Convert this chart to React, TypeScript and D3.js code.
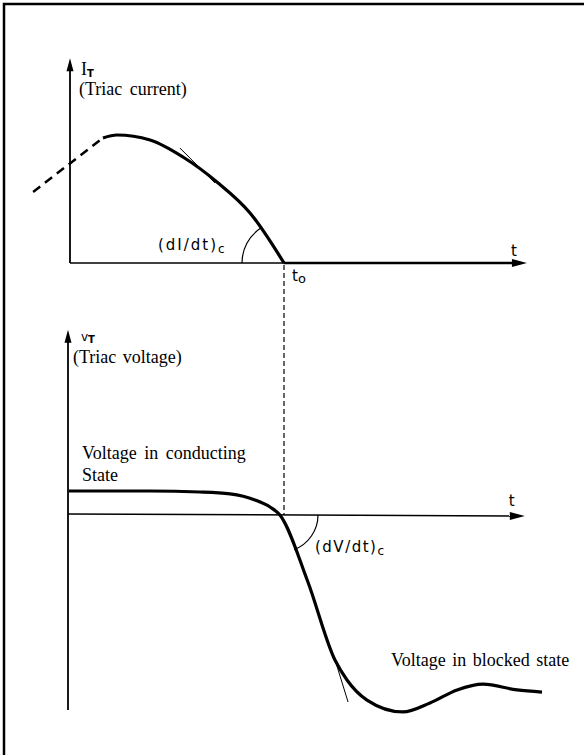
import React from "react";
import * as d3 from "d3";

// Time axis: t0 (commutation instant) = 1
const currentDashed: [number, number][] = [
  [-0.167, 0.555],
  [0.158, 0.977],
];
const currentSolid: [number, number][] = [
  [0.158, 0.977],
  [0.223, 1.0],
  [0.377, 0.961],
  [0.53, 0.828],
  [0.688, 0.633],
  [0.842, 0.391],
  [1.0, 0.0],
];
const currentAfter: [number, number][] = [
  [1.0, 0.0],
  [2.1, 0.0],
];
const currentTangent: [number, number][] = [
  [0.516, 0.898],
  [0.679, 0.625],
];
const voltageCurve: [number, number][] = [
  [0.0, 0.123],
  [0.377, 0.123],
  [0.609, 0.118],
  [0.749, 0.108],
  [0.865, 0.077],
  [0.935, 0.041],
  [0.981, 0.0],
  [1.11, -0.34],
  [1.237, -0.744],
  [1.293, -0.846],
  [1.386, -0.949],
  [1.553, -1.01],
  [1.679, -0.964],
  [1.805, -0.897],
  [1.926, -0.867],
  [2.084, -0.897],
  [2.2, -0.908],
];
const voltageTangent: [number, number][] = [
  [1.242, -0.759],
  [1.298, -0.959],
];
const axisEndT = [2.13, 2.12];
const currentAxisTop = 1.6;
const voltageAxisRange = [-1.0, 0.95];

export default function App() {
  const W = 584;
  const H = 755;
  const x = d3.scaleLinear().domain([0, 1]).range([69, 284]);
  const yI = d3.scaleLinear().domain([0, 1]).range([263, 135]);
  const yV = d3.scaleLinear().domain([-1, 0]).range([710, 515]);

  const lineI = d3
    .line<[number, number]>()
    .x((d) => x(d[0]))
    .y((d) => yI(d[1]))
    .curve(d3.curveMonotoneX);
  const lineV = d3
    .line<[number, number]>()
    .x((d) => x(d[0]))
    .y((d) => yV(d[1]))
    .curve(d3.curveMonotoneX);
  const straightI = d3
    .line<[number, number]>()
    .x((d) => x(d[0]))
    .y((d) => yI(d[1]));
  const straightV = d3
    .line<[number, number]>()
    .x((d) => x(d[0]))
    .y((d) => yV(d[1]));

  // angle arcs
  const arcI = d3.path();
  const cI = [x(1), yI(0)];
  const rI = 42;
  const endI = Math.atan2(yI(0.391) - yI(0), x(0.842) - x(1));
  arcI.moveTo(cI[0] - rI, cI[1]);
  arcI.arc(cI[0], cI[1], rI, Math.PI, endI + 2 * Math.PI, false);

  const arcV = d3.path();
  const cV = [x(0.986), yV(0)];
  const rV = 37;
  const endV = Math.atan2(yV(-0.744) - yV(0), x(1.237) - x(0.981));
  arcV.moveTo(cV[0] + rV, cV[1]);
  arcV.arc(cV[0], cV[1], rV, 0, endV, false);

  const arrow = (tx: number, ty: number, dir: "up" | "right") => {
    const p =
      dir === "up"
        ? `M${tx},${ty} L${tx - 3.5},${ty + 13} L${tx + 3.5},${ty + 13} Z`
        : `M${tx},${ty} L${tx - 15},${ty - 4} L${tx - 15},${ty + 4} Z`;
    return <path d={p} fill="#000" />;
  };

  const serif = "'Liberation Serif', 'Times New Roman', serif";
  const hand = "'DejaVu Sans', sans-serif";

  return (
    <svg width={W} height={H} style={{ position: "absolute", left: 0, top: 0, background: "#fff" }}>
      <rect x={0} y={0} width={W} height={H} fill="#fff" />
      {/* frame */}
      <path d={`M4,${H + 5} L4,4 L${W + 5},4`} fill="none" stroke="#000" strokeWidth={2.5} />

      {/* ===== Upper panel: current ===== */}
      <line x1={x(0) + 1} y1={yI(currentAxisTop) + 8} x2={x(0) + 1} y2={yI(0)} stroke="#000" strokeWidth={1.8} />
      {arrow(x(0) + 1, yI(currentAxisTop), "up")}
      <line x1={x(0) + 1} y1={yI(0)} x2={x(axisEndT[0]) - 8} y2={yI(0)} stroke="#000" strokeWidth={1.5} />
      {arrow(x(axisEndT[0]), yI(0), "right")}
      <path d={straightI(currentAfter) || ""} fill="none" stroke="#000" strokeWidth={2.5} />
      <path d={lineI(currentDashed) || ""} fill="none" stroke="#000" strokeWidth={2.5} strokeDasharray="9,6" />
      <path d={lineI(currentSolid) || ""} fill="none" stroke="#000" strokeWidth={3.2} strokeLinejoin="round" />
      <path d={straightI(currentTangent) || ""} fill="none" stroke="#000" strokeWidth={1} />
      <path d={arcI.toString()} fill="none" stroke="#000" strokeWidth={1.2} />

      <text x={x(0) + 12} y={yI(currentAxisTop) + 17} fontFamily={serif} fontSize={18}>
        I<tspan fontFamily={hand} fontSize={10} fontWeight="bold" dy={2}>T</tspan>
      </text>
      <text x={x(0) + 10} y={yI(currentAxisTop) + 37} fontFamily={serif} fontSize={18} wordSpacing={3}>
        (Triac current)
      </text>
      <text x={158} y={250} fontFamily={hand} fontSize={15} letterSpacing={2}>
        (dI/dt)<tspan fontSize={12} dy={3}>c</tspan>
      </text>
      <text x={x(axisEndT[0]) - 16} y={yI(0) - 7} fontFamily={hand} fontSize={15}>
        t
      </text>
      <text x={x(1) + 8} y={yI(0) + 18} fontFamily={hand} fontSize={15}>
        t<tspan fontSize={13} dy={2}>o</tspan>
      </text>

      {/* commutation instant */}
      <line x1={x(1)} y1={yI(0) + 2} x2={x(1)} y2={yV(0)} stroke="#000" strokeWidth={1.2} strokeDasharray="5,3" />

      {/* ===== Lower panel: voltage ===== */}
      <line x1={x(0) - 1} y1={yV(voltageAxisRange[1]) + 8} x2={x(0) - 1} y2={yV(voltageAxisRange[0])} stroke="#000" strokeWidth={1.8} />
      {arrow(x(0) - 1, yV(voltageAxisRange[1]), "up")}
      <line x1={x(0) - 1} y1={yV(0) - 1} x2={x(axisEndT[1]) - 8} y2={yV(0) + 1} stroke="#000" strokeWidth={1.5} />
      {arrow(x(axisEndT[1]), yV(0) + 1, "right")}
      <path d={lineV(voltageCurve) || ""} fill="none" stroke="#000" strokeWidth={3.2} strokeLinejoin="round" />
      <path d={straightV(voltageTangent) || ""} fill="none" stroke="#000" strokeWidth={1} />
      <path d={arcV.toString()} fill="none" stroke="#000" strokeWidth={1.2} />

      <text x={x(0) + 12} y={yV(voltageAxisRange[1]) + 11} fontFamily={hand} fontSize={12}>
        v<tspan fontSize={10} fontWeight="bold" dy={2}>T</tspan>
      </text>
      <text x={x(0) + 4} y={yV(voltageAxisRange[1]) + 33} fontFamily={serif} fontSize={18} wordSpacing={2}>
        (Triac voltage)
      </text>
      <text x={x(0) + 13} y={459} fontFamily={serif} fontSize={18} wordSpacing={3}>
        Voltage in conducting
      </text>
      <text x={x(0) + 13} y={481} fontFamily={serif} fontSize={18}>
        State
      </text>
      <text x={x(axisEndT[1]) - 16} y={yV(0) - 9} fontFamily={hand} fontSize={15}>
        t
      </text>
      <text x={315} y={552} fontFamily={hand} fontSize={15} letterSpacing={1.5}>
        (dV/dt)<tspan fontSize={12} dy={3}>c</tspan>
      </text>
      <text x={391} y={666} fontFamily={serif} fontSize={18} wordSpacing={2}>
        Voltage in blocked state
      </text>
    </svg>
  );
}
